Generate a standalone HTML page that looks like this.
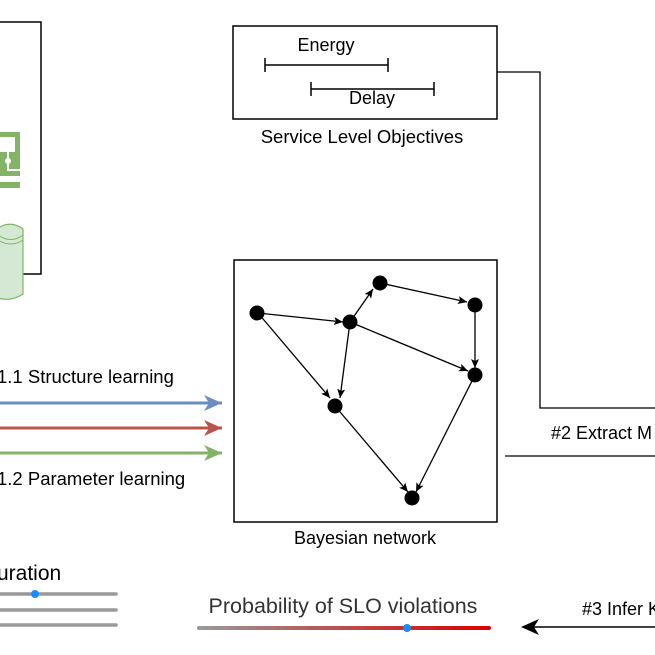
<!DOCTYPE html>
<html><head><style>html,body{margin:0;padding:0;background:#fff}svg{display:block}</style></head>
<body>
<svg width="655" height="655" viewBox="0 0 655 655" xmlns="http://www.w3.org/2000/svg" font-family="Liberation Sans, sans-serif">
<defs>
<marker id="ab" markerWidth="10" markerHeight="10" refX="9" refY="5" orient="auto" markerUnits="userSpaceOnUse"><path d="M0,1 L9,5 L0,9 L2,5z" fill="#000"/></marker>
<marker id="bl" markerWidth="20" markerHeight="16" refX="18" refY="8" orient="auto" markerUnits="userSpaceOnUse"><path d="M0,0 L18,8 L0,16 L5,8z" fill="#6c8ebf"/></marker>
<marker id="rd" markerWidth="20" markerHeight="16" refX="18" refY="8" orient="auto" markerUnits="userSpaceOnUse"><path d="M0,0 L18,8 L0,16 L5,8z" fill="#b85450"/></marker>
<marker id="gr" markerWidth="20" markerHeight="16" refX="18" refY="8" orient="auto" markerUnits="userSpaceOnUse"><path d="M0,0 L18,8 L0,16 L5,8z" fill="#82b366"/></marker>
<linearGradient id="pg" gradientUnits="userSpaceOnUse" x1="199" y1="0" x2="489" y2="0"><stop offset="0" stop-color="#999"/><stop offset="1" stop-color="#d00"/></linearGradient>
</defs>
<path d="M0,22 H41 V274 H0" fill="none" stroke="#000" stroke-width="1.5"/>
<rect x="-2" y="132" width="22" height="44" fill="#82b366"/>
<rect x="-2" y="137" width="17" height="15" fill="#fff"/>
<path d="M8,152 V170 H20" stroke="#fff" stroke-width="2" fill="none"/>
<circle cx="8" cy="161" r="3" fill="#fff"/>
<rect x="-2" y="182" width="22" height="6" fill="#82b366"/>
<path d="M-2,228 Q11,220 23,229 V294 Q11,302 -2,298z" fill="#d5e8d4" stroke="#82b366" stroke-width="1.2"/>
<path d="M-2,235 Q11,244 23,235 M-2,240 Q11,248 23,240" fill="none" stroke="#82b366"/>
<rect x="233" y="26" width="264" height="93" fill="none" stroke="#000" stroke-width="1.5"/>
<path d="M265,58 V72 M265,65 H388 M388,58 V72 M311,82 V96 M311,89 H434 M434,82 V96" stroke="#000" stroke-width="1.5" fill="none"/>
<text x="326" y="51" font-size="18" text-anchor="middle">Energy</text>
<text x="372" y="104" font-size="18" text-anchor="middle">Delay</text>
<text x="362" y="143" font-size="18.5" text-anchor="middle">Service Level Objectives</text>
<path d="M497,72 H540 V408 H655" fill="none" stroke="#000" stroke-width="1.3"/>
<text x="551" y="439" font-size="18">#2 Extract M</text>
<path d="M505,456 H655" stroke="#000" stroke-width="1.3"/>
<rect x="234" y="260" width="263" height="262" fill="none" stroke="#000" stroke-width="1.5"/>
<text x="365" y="544" font-size="18" text-anchor="middle">Bayesian network</text>
<g stroke="#000" stroke-width="1.3" fill="none" marker-end="url(#ab)">
<line x1="258" y1="313" x2="343" y2="322"/>
<line x1="258" y1="313" x2="330" y2="398"/>
<line x1="350" y1="322" x2="373" y2="289"/>
<line x1="380" y1="283" x2="467" y2="302"/>
<line x1="475" y1="306" x2="475" y2="368"/>
<line x1="350" y1="322" x2="340" y2="398"/>
<line x1="350" y1="322" x2="468" y2="371"/>
<line x1="475" y1="375" x2="416" y2="492"/>
<line x1="335" y1="406" x2="408" y2="492"/>
</g>
<g fill="#000"><circle cx="257" cy="313" r="7.5"/><circle cx="350" cy="322" r="7.5"/><circle cx="380" cy="283" r="7.5"/><circle cx="475" cy="305" r="7.5"/><circle cx="475" cy="375" r="7.5"/><circle cx="335" cy="406" r="7.5"/><circle cx="412" cy="498" r="7.5"/></g>
<text x="-3" y="383" font-size="18.5">1.1 Structure learning</text>
<text x="-3" y="485" font-size="18.5">1.2 Parameter learning</text>
<line x1="0" y1="403" x2="222" y2="403" stroke="#6c8ebf" stroke-width="3" marker-end="url(#bl)"/>
<line x1="0" y1="428" x2="222" y2="428" stroke="#b85450" stroke-width="3" marker-end="url(#rd)"/>
<line x1="0" y1="453" x2="222" y2="453" stroke="#82b366" stroke-width="3" marker-end="url(#gr)"/>
<text x="-3" y="580" font-size="21">uration</text>
<g stroke="#999" stroke-width="3.5" stroke-linecap="round"><line x1="0" y1="594" x2="116" y2="594"/><line x1="0" y1="610" x2="116" y2="610"/><line x1="0" y1="625" x2="116" y2="625"/></g>
<circle cx="35" cy="594" r="4" fill="#1a8cff"/>
<text x="343" y="613" font-size="21.5" fill="#333" text-anchor="middle">Probability of SLO violations</text>
<line x1="199" y1="628" x2="489" y2="628" stroke="url(#pg)" stroke-width="4" stroke-linecap="round"/>
<circle cx="407" cy="628" r="4" fill="#1a8cff"/>
<text x="582" y="615" font-size="18">#3 Infer K</text>
<line x1="655" y1="627" x2="524" y2="627" stroke="#000" stroke-width="1.5"/>
<path d="M521,627 L539,619 L534,627 L539,635z" fill="#000"/>
</svg>
</body></html>
